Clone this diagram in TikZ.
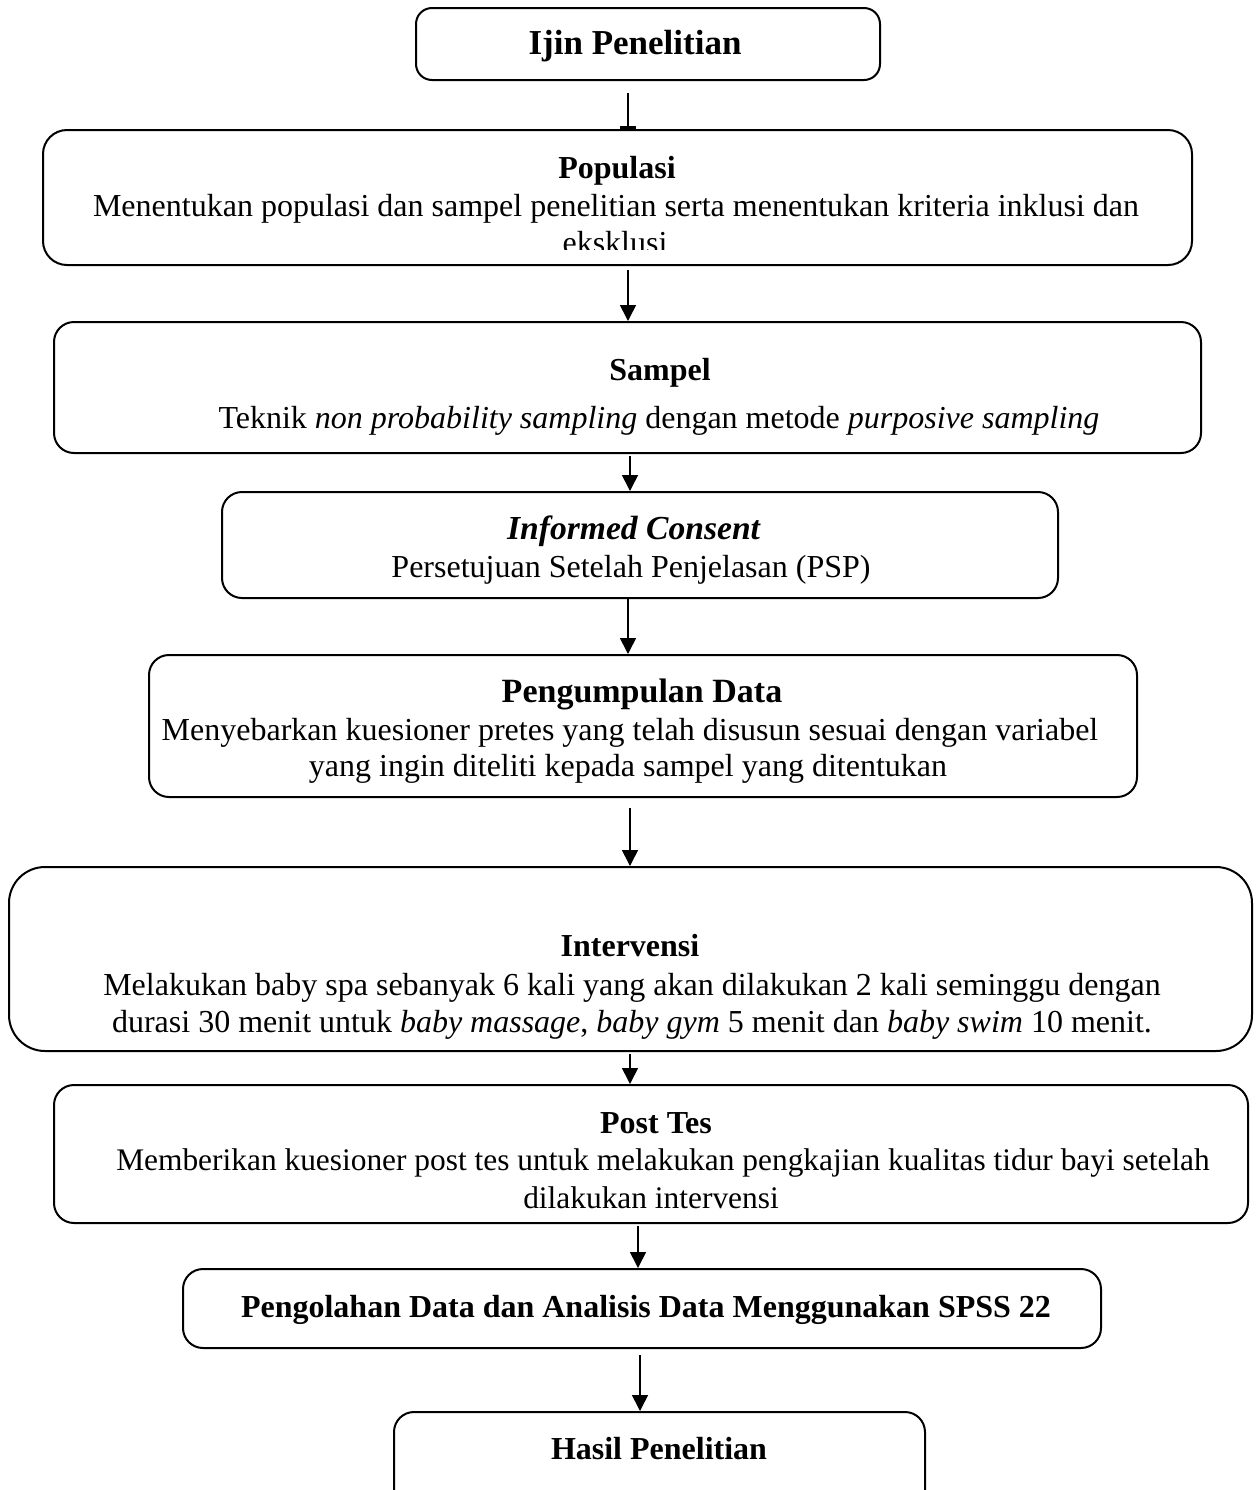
\documentclass[tikz,border=0pt]{standalone}
\usepackage{fontspec}
\setmainfont{Liberation Serif}
\usetikzlibrary{arrows.meta}
\begin{document}
\begin{tikzpicture}[x=0.5pt,y=-0.5pt,
  box/.style={draw,line width=1pt,rounded corners=10pt,inner sep=0pt},
  txt/.style={anchor=base,inner sep=0pt,font=\fontsize{16pt}{19pt}\selectfont},
  ttl/.style={txt,font=\fontsize{16pt}{19pt}\selectfont\bfseries},
  arr/.style={line width=0.8pt,-{Triangle[width=8pt,length=8pt]}},
  bararr/.style={line width=0.8pt,-{Bar[width=8pt,line width=1.5pt]}}]
\clip (0,0) rectangle (1256,1490);
\useasboundingbox (0,0) rectangle (1256,1490);
% boxes
\node[box,minimum width=232pt,minimum height=36pt,rounded corners=8pt] (ijin) at (648,44) {};
\node[box,minimum width=574.5pt,minimum height=67.5pt,rounded corners=12pt] (pop) at (617.5,197.5) {};
\node[box,minimum width=573.5pt,minimum height=65.5pt] (samp) at (627.5,387.5) {};
\node[box,minimum width=418pt,minimum height=53pt] (inf) at (640,545) {};
\node[box,minimum width=494pt,minimum height=71pt] (peng) at (643,726) {};
\node[box,minimum width=621.5pt,minimum height=92pt,rounded corners=18pt] (int) at (630.5,959) {};
\node[box,minimum width=597pt,minimum height=69pt] (post) at (651,1154) {};
\node[box,minimum width=459pt,minimum height=39.5pt] (olah) at (642,1308.5) {};
\node[box,minimum width=265.5pt,minimum height=60pt] (hasil) at (659.5,1472) {};
% texts
\node[ttl,font=\fontsize{17.5pt}{19pt}\selectfont\bfseries] (t1) at (635,54) {Ijin Penelitian};
\node[ttl] (t2) at (617,178) {Populasi};
\node[txt] (t2a) at (616,216) {Menentukan populasi dan sampel penelitian serta menentukan kriteria inklusi dan};
\begin{scope}
\clip (80,150) rectangle (1170,249);
\node[txt] (t2b) at (615,253) {eksklusi};
\end{scope}
\node[ttl] (t3) at (660,380) {Sampel};
\node[txt] (t3a) at (659,428) {Teknik \textit{non probability sampling} dengan metode \textit{purposive sampling}};
\node[ttl,font=\fontsize{16.8pt}{19pt}\selectfont\bfseries] (t4) at (634,539) {\textit{Informed Consent}};
\node[txt] (t4a) at (631,577) {Persetujuan Setelah Penjelasan (PSP)};
\node[ttl,font=\fontsize{17pt}{19pt}\selectfont\bfseries] (t5) at (642,702) {Pengumpulan Data};
\node[txt] (t5a) at (630,740) {Menyebarkan kuesioner pretes yang telah disusun sesuai dengan variabel};
\node[txt] (t5b) at (628,776) {yang ingin diteliti kepada sampel yang ditentukan};
\node[ttl] (t6) at (630,956) {Intervensi};
\node[txt] (t6a) at (632,995) {Melakukan baby spa sebanyak 6 kali yang akan dilakukan 2 kali seminggu dengan};
\node[txt] (t6b) at (632,1032) {durasi 30 menit untuk \textit{baby massage}, \textit{baby gym} 5 menit dan \textit{baby swim} 10 menit.};
\node[ttl] (t7) at (656,1133) {Post Tes};
\node[txt,font=\fontsize{15.7pt}{19pt}\selectfont] (t7a) at (663,1170) {Memberikan kuesioner post tes untuk melakukan pengkajian kualitas tidur bayi setelah};
\node[txt,font=\fontsize{15.7pt}{19pt}\selectfont] (t7b) at (651,1208) {dilakukan intervensi};
\node[ttl] (t8) at (646,1317) {Pengolahan Data dan Analisis Data Menggunakan SPSS 22};
\node[ttl] (t9) at (659,1459) {Hasil Penelitian};
% arrow x positions
\coordinate (c1) at (628,0);
\coordinate (c2) at (628,0);
\coordinate (c3) at (630,0);
\coordinate (c4) at (628,0);
\coordinate (c5) at (630,0);
\coordinate (c6) at (630,0);
\coordinate (c7) at (638,0);
\coordinate (c8) at (640,0);
% connectors
\draw[bararr,shorten <=6pt] (ijin.south -| c1) -- (pop.north -| c1);
\draw[arr,shorten <=2pt] (pop.south -| c2) -- (samp.north -| c2);
\draw[arr,shorten <=1pt] (samp.south -| c3) -- (inf.north -| c3);
\draw[arr] (inf.south -| c4) -- (peng.north -| c4);
\draw[arr,shorten <=5pt] (peng.south -| c5) -- (int.north -| c5);
\draw[arr,shorten <=1pt] (int.south -| c6) -- (post.north -| c6);
\draw[arr,shorten <=1pt] (post.south -| c7) -- (olah.north -| c7);
\draw[arr,shorten <=3pt] (olah.south -| c8) -- (hasil.north -| c8);
\end{tikzpicture}
\end{document}
